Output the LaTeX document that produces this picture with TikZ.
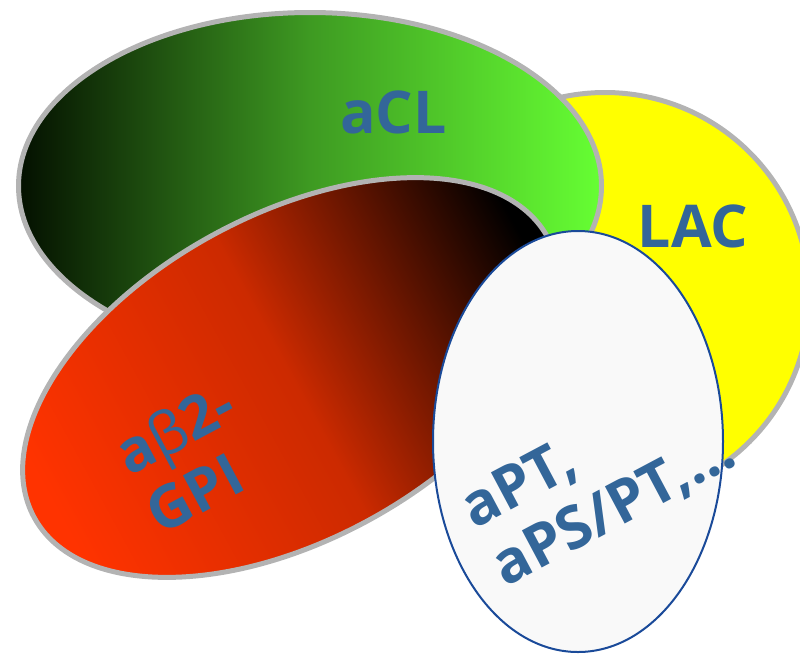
\documentclass[tikz,border=0pt]{standalone}
\usepackage{fontspec}
\setmainfont{Open Sans}
\definecolor{txtblue}{HTML}{336699}
\definecolor{bordgray}{HTML}{B3B3B3}
\definecolor{yellowfill}{HTML}{FFFF00}
\definecolor{greendark}{HTML}{041000}
\definecolor{greenmid}{HTML}{3E9A22}
\definecolor{greenlight}{HTML}{66FF33}
\definecolor{redbright}{HTML}{FF3300}
\definecolor{redmid}{HTML}{CC2A00}
\definecolor{whitefill}{HTML}{F9F9F9}
\definecolor{whiteborder}{HTML}{1A4A99}
\tikzset{
  bord/.style={draw=bordgray, line width=5pt},
  lbl/.style={font=\fontsize{59}{66}\selectfont\bfseries, text=txtblue, inner sep=0pt}
}
\begin{document}
\begin{tikzpicture}[x=1pt,y=-1pt]
\useasboundingbox (0,0) rectangle (800,654);
% LAC (back)
\path[bord, fill=yellowfill] (605,297) circle [radius=204.5pt];
% aCL
\path[bord, left color=greendark, right color=greenlight, middle color=greenmid]
  (310,186) ellipse [x radius=291.5pt, y radius=173.5pt];
% a beta2-GPI
\path[bord, left color=redbright, right color=black, middle color=redmid, shading angle=118.6]
  (291,377.5) ellipse [x radius=292.5pt, y radius=162.5pt, rotate=28.6];
% aPT
\path[draw=whiteborder, line width=2pt, fill=whitefill]
  (578,441.5) ellipse [x radius=145pt, y radius=210.5pt];
% labels
\node[lbl] (acl) at (393.5,112.5) {aCL};
\node[lbl] (lac) at (693,226) {LAC};
\node[lbl, rotate=28, align=left] (b2gpi) at (190,457) {a{\mdseries β}2-\\GPI};
\node[lbl, rotate=28, align=left] (apt) at (599,481) {aPT,\\aPS/PT,...};
\end{tikzpicture}
\end{document}
